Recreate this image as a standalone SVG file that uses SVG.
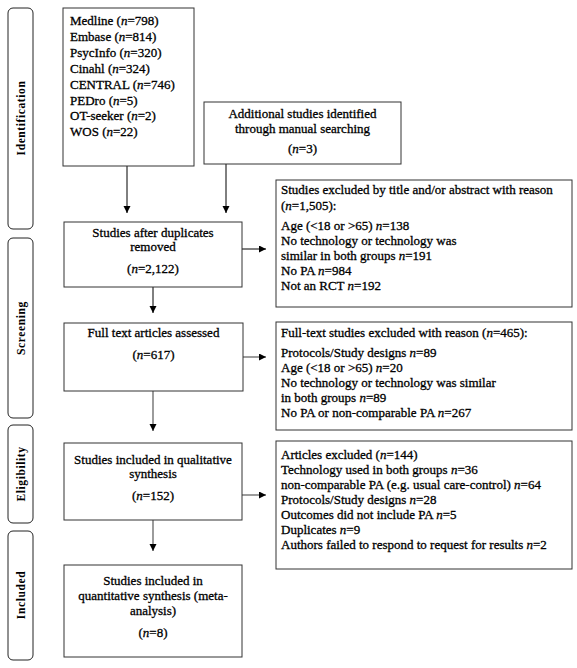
<svg xmlns="http://www.w3.org/2000/svg" width="577" height="668" viewBox="0 0 577 668">
<defs>
<style>
.bx{fill:#fff;stroke:#333;stroke-width:1}
.side{fill:#fff;stroke:#222;stroke-width:1}
.t{font-family:"Liberation Serif","Times New Roman",serif;font-size:13px;fill:#000;stroke:#000;stroke-width:0.3}
.c{text-anchor:middle}
.lab{font-family:"Liberation Serif","Times New Roman",serif;font-size:11.5px;font-weight:bold;fill:#000;text-anchor:middle;letter-spacing:0.6px}
.ln{stroke:#000;stroke-width:1;fill:none}
.lg{stroke:#666;stroke-width:1.3;fill:none}
</style>
<marker id="ah" markerWidth="8" markerHeight="8" refX="7" refY="3.5" orient="auto" markerUnits="userSpaceOnUse">
<path d="M0,0 L7,3.5 L0,7 Z" fill="#000"/>
</marker>
</defs>
<rect width="577" height="668" fill="#fff"/>

<g id="phase-identification"><rect class="side" x="8" y="8" width="25" height="221" rx="5"/><text class="lab" transform="translate(24.5,118) rotate(-90)">Identification</text></g>
<g id="phase-screening"><rect class="side" x="8" y="238" width="25" height="180" rx="5"/><text class="lab" transform="translate(24.5,328) rotate(-90)">Screening</text></g>
<g id="phase-eligibility"><rect class="side" x="8" y="425" width="25" height="98" rx="5"/><text class="lab" transform="translate(24.5,474) rotate(-90)">Eligibility</text></g>
<g id="phase-included"><rect class="side" x="8" y="531" width="25" height="129" rx="5"/><text class="lab" transform="translate(24.5,595) rotate(-90)">Included</text></g>

<g id="connectors">
<line class="ln" x1="127" y1="166" x2="127" y2="213" marker-end="url(#ah)"/>
<line class="ln" x1="226" y1="164" x2="226" y2="213" marker-end="url(#ah)"/>
<line class="ln" x1="242" y1="249" x2="266" y2="249" marker-end="url(#ah)"/>
<line class="ln" x1="153" y1="287" x2="153" y2="313" marker-end="url(#ah)"/>
<line class="lg" x1="243" y1="357" x2="266" y2="357" marker-end="url(#ah)"/>
<line class="lg" x1="153" y1="391" x2="153" y2="431" marker-end="url(#ah)"/>
<line class="lg" x1="242" y1="495" x2="266" y2="495" marker-end="url(#ah)"/>
<line class="lg" x1="153" y1="520" x2="153" y2="551" marker-end="url(#ah)"/>
</g>

<g id="databases"><rect class="bx" x="63" y="8" width="131" height="158"/>
<text class="t" x="70" y="25">Medline (<tspan font-style="italic">n</tspan>=798)</text>
<text class="t" x="70" y="41">Embase (<tspan font-style="italic">n</tspan>=814)</text>
<text class="t" x="70" y="57">PsycInfo (<tspan font-style="italic">n</tspan>=320)</text>
<text class="t" x="70" y="73">Cinahl (<tspan font-style="italic">n</tspan>=324)</text>
<text class="t" x="70" y="89">CENTRAL (<tspan font-style="italic">n</tspan>=746)</text>
<text class="t" x="70" y="105">PEDro (<tspan font-style="italic">n</tspan>=5)</text>
<text class="t" x="70" y="120">OT-seeker (<tspan font-style="italic">n</tspan>=2)</text>
<text class="t" x="70" y="136">WOS (<tspan font-style="italic">n</tspan>=22)</text>
</g>

<g id="additional"><rect class="bx" x="204" y="102" width="197" height="62"/>
<text class="t c" x="302.5" y="118">Additional studies identified</text>
<text class="t c" x="302.5" y="133">through manual searching</text>
<text class="t c" x="302.5" y="153">(<tspan font-style="italic">n</tspan>=3)</text>
</g>

<g id="duplicates"><rect class="bx" x="64" y="222" width="178" height="65"/>
<text class="t c" x="153" y="237">Studies after duplicates</text>
<text class="t c" x="153" y="251">removed</text>
<text class="t c" x="153" y="273">(<tspan font-style="italic">n</tspan>=2,122)</text>
</g>

<g id="excluded-title"><rect class="bx" x="276" y="180" width="296" height="127"/>
<text class="t" x="281" y="194">Studies excluded by title and/or abstract with reason</text>
<text class="t" x="281" y="210">(<tspan font-style="italic">n</tspan>=1,505):</text>
<text class="t" x="281" y="230">Age (&lt;18 or &gt;65) <tspan font-style="italic">n</tspan>=138</text>
<text class="t" x="281" y="245">No technology or technology was</text>
<text class="t" x="281" y="260">similar in both groups <tspan font-style="italic">n</tspan>=191</text>
<text class="t" x="281" y="275">No PA  <tspan font-style="italic">n</tspan>=984</text>
<text class="t" x="281" y="290">Not an RCT <tspan font-style="italic">n</tspan>=192</text>
</g>

<g id="fulltext"><rect class="bx" x="64" y="323" width="179" height="68"/>
<text class="t c" x="153.5" y="337">Full text articles assessed</text>
<text class="t c" x="153.5" y="359">(<tspan font-style="italic">n</tspan>=617)</text>
</g>

<g id="excluded-fulltext"><rect class="bx" x="276" y="322" width="296" height="108"/>
<text class="t" x="281" y="337">Full-text studies excluded with reason (<tspan font-style="italic">n</tspan>=465):</text>
<text class="t" x="281" y="357">Protocols/Study designs <tspan font-style="italic">n</tspan>=89</text>
<text class="t" x="281" y="372">Age (&lt;18 or &gt;65) <tspan font-style="italic">n</tspan>=20</text>
<text class="t" x="281" y="387">No technology or technology was similar</text>
<text class="t" x="281" y="402">in both groups <tspan font-style="italic">n</tspan>=89</text>
<text class="t" x="281" y="417">No PA or non-comparable PA <tspan font-style="italic">n</tspan>=267</text>
</g>

<g id="qualitative"><rect class="bx" x="64" y="443" width="178" height="77"/>
<text class="t c" x="153" y="464">Studies included in qualitative</text>
<text class="t c" x="153" y="478">synthesis</text>
<text class="t c" x="153" y="500">(<tspan font-style="italic">n</tspan>=152)</text>
</g>

<g id="excluded-articles"><rect class="bx" x="276" y="441" width="296" height="128"/>
<text class="t" x="281" y="459">Articles excluded (<tspan font-style="italic">n</tspan>=144)</text>
<text class="t" x="281" y="474">Technology used in both groups <tspan font-style="italic">n</tspan>=36</text>
<text class="t" x="281" y="489">non-comparable PA (e.g. usual care-control) <tspan font-style="italic">n</tspan>=64</text>
<text class="t" x="281" y="504">Protocols/Study designs <tspan font-style="italic">n</tspan>=28</text>
<text class="t" x="281" y="519">Outcomes did not include PA <tspan font-style="italic">n</tspan>=5</text>
<text class="t" x="281" y="534">Duplicates <tspan font-style="italic">n</tspan>=9</text>
<text class="t" x="281" y="549">Authors failed to respond to request for results <tspan font-style="italic">n</tspan>=2</text>
</g>

<g id="quantitative"><rect class="bx" x="64" y="565" width="178" height="92"/>
<text class="t c" x="153" y="585">Studies included in</text>
<text class="t c" x="153" y="600">quantitative synthesis (meta-</text>
<text class="t c" x="153" y="615">analysis)</text>
<text class="t c" x="153" y="637">(<tspan font-style="italic">n</tspan>=8)</text>
</g>
</svg>
